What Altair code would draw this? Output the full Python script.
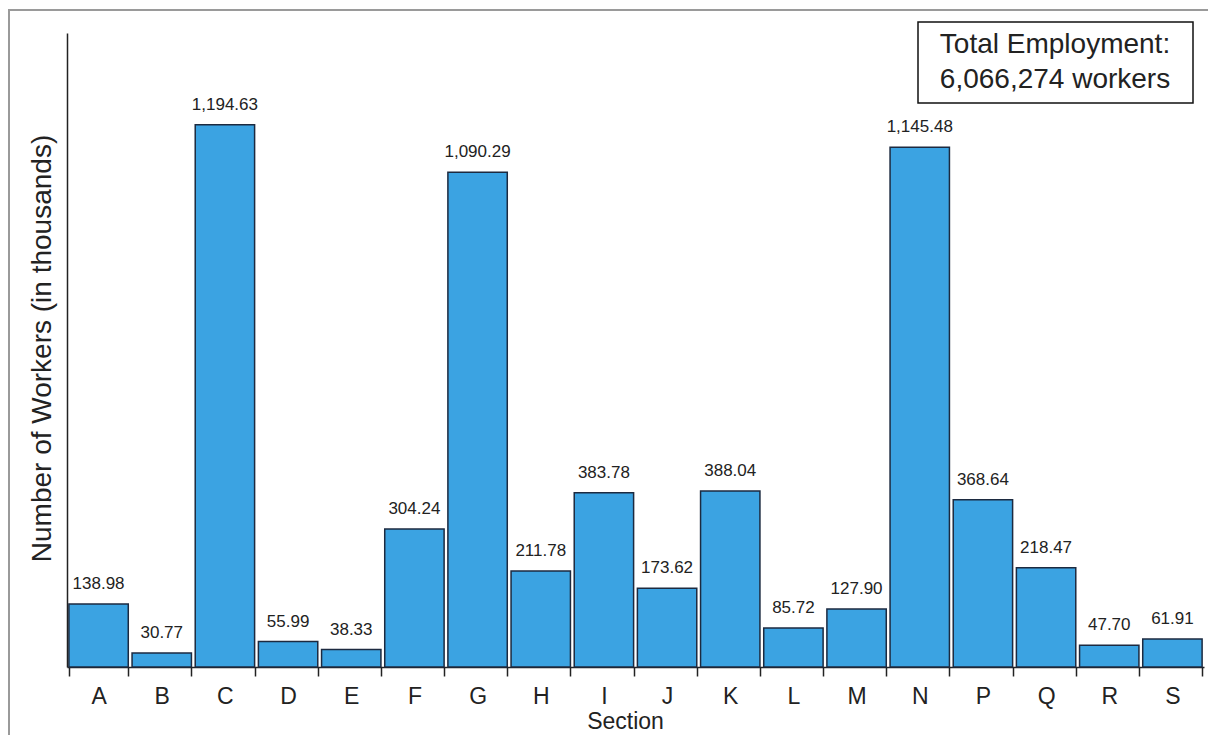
import altair as alt
import pandas as pd

sections = ["A", "B", "C", "D", "E", "F", "G", "H", "I", "J", "K", "L", "M", "N", "P", "Q", "R", "S"]
workers = [138.98, 30.77, 1194.63, 55.99, 38.33, 304.24, 1090.29, 211.78, 383.78, 173.62,
           388.04, 85.72, 127.90, 1145.48, 368.64, 218.47, 47.70, 61.91]
labels = ["138.98", "30.77", "1,194.63", "55.99", "38.33", "304.24", "1,090.29", "211.78", "383.78",
          "173.62", "388.04", "85.72", "127.90", "1,145.48", "368.64", "218.47", "47.70", "61.91"]
box_lines = ["Total Employment:", "6,066,274 workers"]

df = pd.DataFrame({"Section": sections, "Workers": workers, "Label": labels})

FONT = "Liberation Sans"
W, H = 1137, 634

x = alt.X("Section:N", sort=sections,
          scale=alt.Scale(paddingInner=0.06, paddingOuter=0.03),
          axis=alt.Axis(title="Section", labelAngle=0, tickBand="extent", tickSize=9,
                        tickColor="#222", domainColor="#222", domainWidth=1.5, tickWidth=1.5,
                        labelFontSize=23, labelColor="#222", labelPadding=9,
                        titleFontSize=23, titleFontWeight="normal", titleColor="#222",
                        titlePadding=2, titleX=558, labelFont=FONT, titleFont=FONT))
y = alt.Y("Workers:Q", scale=alt.Scale(domain=[0, 1397], nice=False),
          axis=alt.Axis(title="Number of Workers (in thousands)", labels=False, ticks=False,
                        grid=False, domainColor="#222", domainWidth=1.5,
                        titleFontSize=28, titleFontWeight="normal", titleColor="#222",
                        titleFont=FONT, titleX=-25, titleY=H / 2 - 2, titleAngle=270,
                        titleBaseline="middle", titleAlign="center"))

bars = alt.Chart(df).mark_bar(color="#3ba3e2", stroke="#1c2a40", strokeWidth=1.5).encode(x=x, y=y)
text = alt.Chart(df).mark_text(baseline="bottom", dy=-11, fontSize=17, font=FONT, color="#222").encode(
    x=alt.X("Section:N", sort=sections), y="Workers:Q", text="Label:N")

box_df = pd.DataFrame({"k": [0]})
box = alt.Chart(box_df).mark_rect(fill="white", stroke="#111", strokeWidth=1.5).encode(
    x=alt.value(851), x2=alt.value(1126), y=alt.value(-11), y2=alt.value(70))

line1 = alt.Chart(pd.DataFrame({"t": [box_lines[0]]})).mark_text(
    fontSize=28, font=FONT, color="#222", baseline="middle").encode(
    x=alt.value(988), y=alt.value(12), text="t:N")
line2 = alt.Chart(pd.DataFrame({"t": [box_lines[1]]})).mark_text(
    fontSize=28, font=FONT, color="#222", baseline="middle").encode(
    x=alt.value(988), y=alt.value(47), text="t:N")

border = alt.Chart(box_df).mark_rect(fill="transparent", stroke="#9a9a9a", strokeWidth=2).encode(
    x=alt.value(-58), x2=alt.value(1160), y=alt.value(-23), y2=alt.value(720))

chart = alt.layer(border, bars, text, box, line1, line2).properties(
    width=W, height=H, autosize=alt.AutoSizeParams(type="none"),
    padding={"left": 59, "top": 25, "right": 4, "bottom": 68}, background="white"
).configure_view(stroke=None, strokeWidth=0)

chart.save("out.html", embed_options={"renderer": "svg", "actions": False})
